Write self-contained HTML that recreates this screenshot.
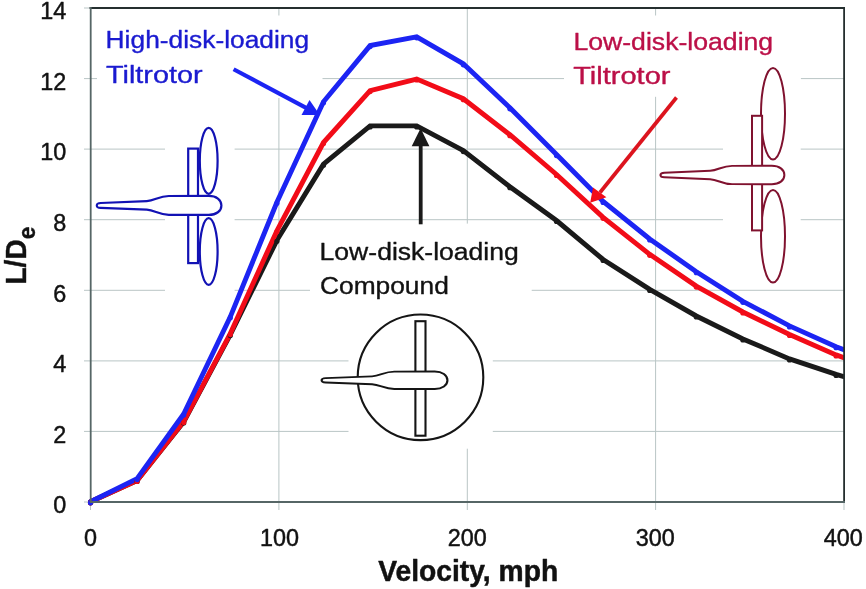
<!DOCTYPE html>
<html><head><meta charset="utf-8"><title>L/De vs Velocity</title>
<style>
html,body{margin:0;padding:0;background:#fff;}
svg{display:block;}
text{font-family:"Liberation Sans",sans-serif;paint-order:stroke;stroke-linejoin:round;}
</style></head><body>
<svg width="866" height="589" viewBox="0 0 866 589">
<rect width="866" height="589" fill="#fff"/>
<g stroke="#b9c5c5" stroke-width="1" fill="none"><line x1="84" y1="431.4" x2="844" y2="431.4"/><line x1="84" y1="360.9" x2="844" y2="360.9"/><line x1="84" y1="290.3" x2="844" y2="290.3"/><line x1="84" y1="219.7" x2="844" y2="219.7"/><line x1="84" y1="149.1" x2="844" y2="149.1"/><line x1="84" y1="78.6" x2="844" y2="78.6"/><line x1="278.9" y1="8" x2="278.9" y2="510"/><line x1="467.3" y1="8" x2="467.3" y2="510"/><line x1="655.6" y1="8" x2="655.6" y2="510"/><line x1="84" y1="8" x2="90" y2="8"/><line x1="84" y1="502" x2="90" y2="502"/><line x1="90.5" y1="502" x2="90.5" y2="510"/><line x1="844" y1="502" x2="844" y2="510"/></g>
<g fill="#fff" stroke="none">
<rect x="97" y="15.5" width="225.5" height="82.5"/>
<rect x="165" y="120" width="69.6" height="175"/>
<rect x="564" y="15.5" width="236.7" height="81.3"/>
<rect x="723" y="60" width="77.7" height="226"/>
<rect x="310" y="223.6" width="221.7" height="85"/>
<rect x="348.5" y="308" width="144.3" height="140.7"/>
</g>
<clipPath id="cp"><rect x="86" y="8" width="758.6" height="498"/></clipPath>
<g clip-path="url(#cp)" fill="none" stroke-width="4.9" stroke-linejoin="miter" stroke-linecap="round">
<polyline stroke="#1a1a1a" points="90.5,501.8 137.1,480.5 183.7,421.9 230.3,334.6 276.9,240.3 323.5,164.2 370.1,125.9 416.7,125.9 463.3,150.6 509.9,186.7 556.5,220.5 603.1,259.5 649.7,289.4 696.3,316.0 742.9,338.9 789.5,358.9 836.1,374.4 882.7,388.0"/>
<polyline stroke="#f20c18" points="90.5,501.8 137.1,480.5 183.7,421.4 230.3,333.6 276.9,230.8 323.5,142.5 370.1,90.6 416.7,79.0 463.3,98.7 509.9,134.7 556.5,174.5 603.1,217.3 649.7,254.3 696.3,286.1 742.9,312.0 789.5,334.5 836.1,354.9 882.7,372.0"/>
<polyline stroke="#1c24f3" points="90.5,501.8 137.1,478.6 183.7,414.0 230.3,316.8 276.9,202.3 323.5,101.7 370.1,45.6 416.7,36.8 463.3,63.8 509.9,107.8 556.5,154.6 603.1,201.4 649.7,239.0 696.3,271.7 742.9,301.3 789.5,325.9 836.1,346.7 882.7,365.0"/>
</g>
<g clip-path="url(#cp)"><circle cx="90.5" cy="502.8" r="2.6" fill="#1a1a1a"/><circle cx="137.1" cy="481.5" r="2.6" fill="#1a1a1a"/><circle cx="183.7" cy="422.9" r="2.6" fill="#1a1a1a"/><circle cx="230.3" cy="335.6" r="2.6" fill="#1a1a1a"/><circle cx="276.9" cy="241.3" r="2.6" fill="#1a1a1a"/><circle cx="323.5" cy="165.2" r="2.6" fill="#1a1a1a"/><circle cx="370.1" cy="126.9" r="2.6" fill="#1a1a1a"/><circle cx="416.7" cy="126.9" r="2.6" fill="#1a1a1a"/><circle cx="463.3" cy="151.6" r="2.6" fill="#1a1a1a"/><circle cx="509.9" cy="187.7" r="2.6" fill="#1a1a1a"/><circle cx="556.5" cy="221.5" r="2.6" fill="#1a1a1a"/><circle cx="603.1" cy="260.5" r="2.6" fill="#1a1a1a"/><circle cx="649.7" cy="290.4" r="2.6" fill="#1a1a1a"/><circle cx="696.3" cy="317.0" r="2.6" fill="#1a1a1a"/><circle cx="742.9" cy="339.9" r="2.6" fill="#1a1a1a"/><circle cx="789.5" cy="359.9" r="2.6" fill="#1a1a1a"/><circle cx="836.1" cy="375.4" r="2.6" fill="#1a1a1a"/><circle cx="90.5" cy="502.8" r="2.6" fill="#f20c18"/><circle cx="137.1" cy="481.5" r="2.6" fill="#f20c18"/><circle cx="183.7" cy="422.4" r="2.6" fill="#f20c18"/><circle cx="230.3" cy="334.6" r="2.6" fill="#f20c18"/><circle cx="276.9" cy="231.8" r="2.6" fill="#f20c18"/><circle cx="323.5" cy="143.5" r="2.6" fill="#f20c18"/><circle cx="370.1" cy="91.6" r="2.6" fill="#f20c18"/><circle cx="416.7" cy="80.0" r="2.6" fill="#f20c18"/><circle cx="463.3" cy="99.7" r="2.6" fill="#f20c18"/><circle cx="509.9" cy="135.7" r="2.6" fill="#f20c18"/><circle cx="556.5" cy="175.5" r="2.6" fill="#f20c18"/><circle cx="603.1" cy="218.3" r="2.6" fill="#f20c18"/><circle cx="649.7" cy="255.3" r="2.6" fill="#f20c18"/><circle cx="696.3" cy="287.1" r="2.6" fill="#f20c18"/><circle cx="742.9" cy="313.0" r="2.6" fill="#f20c18"/><circle cx="789.5" cy="335.5" r="2.6" fill="#f20c18"/><circle cx="836.1" cy="355.9" r="2.6" fill="#f20c18"/><circle cx="90.5" cy="502.8" r="2.6" fill="#1c24f3"/><circle cx="137.1" cy="479.6" r="2.6" fill="#1c24f3"/><circle cx="183.7" cy="415.0" r="2.6" fill="#1c24f3"/><circle cx="230.3" cy="317.8" r="2.6" fill="#1c24f3"/><circle cx="276.9" cy="203.3" r="2.6" fill="#1c24f3"/><circle cx="323.5" cy="102.7" r="2.6" fill="#1c24f3"/><circle cx="370.1" cy="46.6" r="2.6" fill="#1c24f3"/><circle cx="416.7" cy="37.8" r="2.6" fill="#1c24f3"/><circle cx="463.3" cy="64.8" r="2.6" fill="#1c24f3"/><circle cx="509.9" cy="108.8" r="2.6" fill="#1c24f3"/><circle cx="556.5" cy="155.6" r="2.6" fill="#1c24f3"/><circle cx="603.1" cy="202.4" r="2.6" fill="#1c24f3"/><circle cx="649.7" cy="240.0" r="2.6" fill="#1c24f3"/><circle cx="696.3" cy="272.7" r="2.6" fill="#1c24f3"/><circle cx="742.9" cy="302.3" r="2.6" fill="#1c24f3"/><circle cx="789.5" cy="326.9" r="2.6" fill="#1c24f3"/><circle cx="836.1" cy="347.7" r="2.6" fill="#1c24f3"/></g>
<g fill="none" stroke-linecap="square">
<polyline points="90.5,8 844.1,8 844.1,502" stroke="#252f2f" stroke-width="1.8"/>
<polyline points="90.7,8 90.7,502 844.1,502" stroke="#566666" stroke-width="1.8"/>
</g>

<!-- blue aircraft -->
<g fill="#fff" stroke="#1212b4" stroke-width="2.2">
<ellipse cx="208.7" cy="160.8" rx="8.9" ry="33"/>
<ellipse cx="208.7" cy="251.5" rx="8.9" ry="33.3"/>
<rect x="188.2" y="148.6" width="9.8" height="114.5"/>
<path transform="translate(96.8,205.4)" d="M0,0 C0,-2.2 1.5,-2.3 4,-2.4 L50,-4.3 C58,-4.8 62,-9.4 72,-9.4 L112,-9.5 C119.5,-9.5 124.6,-5.6 124.6,0 C124.6,5.6 119.5,9.5 112,9.5 L72,9.4 C62,9.4 58,4.8 50,4.3 L4,2.4 C1.5,2.3 0,2.2 0,0 Z"/>
</g>
<!-- red aircraft -->
<g fill="#fff" stroke="#80122f" stroke-width="2">
<ellipse cx="773" cy="113.7" rx="12" ry="45.8"/>
<ellipse cx="773" cy="236.3" rx="12" ry="46.3"/>
<rect x="752" y="115.8" width="10.1" height="114.6"/>
<path transform="translate(660.4,175) scale(0.995,0.97)" d="M0,0 C0,-2.2 1.5,-2.3 4,-2.4 L50,-4.3 C58,-4.8 62,-9.4 72,-9.4 L112,-9.5 C119.5,-9.5 124.6,-5.6 124.6,0 C124.6,5.6 119.5,9.5 112,9.5 L72,9.4 C62,9.4 58,4.8 50,4.3 L4,2.4 C1.5,2.3 0,2.2 0,0 Z"/>
</g>
<!-- compound -->
<g fill="none" stroke="#151515" stroke-width="2.1">
<circle cx="420.5" cy="377.3" r="62.8"/>
<rect x="415.4" y="321.2" width="10.1" height="114.5" fill="#fff"/>
<path transform="translate(321.6,380.3) scale(1.01,0.92)" d="M0,0 C0,-2.2 1.5,-2.3 4,-2.4 L50,-4.3 C58,-4.8 62,-9.4 72,-9.4 L112,-9.5 C119.5,-9.5 124.6,-5.6 124.6,0 C124.6,5.6 119.5,9.5 112,9.5 L72,9.4 C62,9.4 58,4.8 50,4.3 L4,2.4 C1.5,2.3 0,2.2 0,0 Z" fill="#fff"/>
</g>

<!-- arrows -->
<g stroke-linecap="butt">
<line x1="233.6" y1="69.2" x2="308" y2="108.9" stroke="#1c24f3" stroke-width="4.1"/>
<polygon points="319.8,114.9 301.5,115 309.5,100" fill="#1c24f3"/>
<line x1="676.5" y1="97.5" x2="600" y2="192.5" stroke="#dc141e" stroke-width="3.7"/>
<polygon points="590.2,202.8 593,187.6 606.4,197.2" fill="#f20c18"/>
<line x1="420.7" y1="224.3" x2="420.7" y2="144" stroke="#1a1a1a" stroke-width="3.8"/>
<polygon points="420.6,128.3 411.7,146.3 429.4,146.3" fill="#1a1a1a"/>
</g>

<!-- annotation text -->
<g font-size="23.3" fill="#1a1ad0" stroke="#1a1ad0" stroke-width="0.35">
<text id="t1" x="105.6" y="48.3" textLength="203.6" lengthAdjust="spacingAndGlyphs">High-disk-loading</text>
<text id="t2" x="106" y="83" textLength="96.5" lengthAdjust="spacingAndGlyphs">Tiltrotor</text>
</g>
<g font-size="23.3" fill="#bb0f47" stroke="#bb0f47" stroke-width="0.35">
<text id="t3" x="573.4" y="49.8" textLength="199.8" lengthAdjust="spacingAndGlyphs">Low-disk-loading</text>
<text id="t4" x="573.2" y="83.5" textLength="97.3" lengthAdjust="spacingAndGlyphs">Tiltrotor</text>
</g>
<g font-size="23.3" fill="#111" stroke="#111" stroke-width="0.35">
<text id="t5" x="319.6" y="259.7" textLength="199.2" lengthAdjust="spacingAndGlyphs">Low-disk-loading</text>
<text id="t6" x="320" y="293.5" textLength="128.8" lengthAdjust="spacingAndGlyphs">Compound</text>
</g>

<!-- axis tick labels -->
<g font-size="23.4" fill="#111" stroke="#111" stroke-width="0.45" text-anchor="end">
<text x="66.2" y="19.2">14</text>
<text x="66.2" y="89.8">12</text>
<text x="66.2" y="160.3">10</text>
<text x="66.2" y="230.9">8</text>
<text x="66.2" y="301.5">6</text>
<text x="66.2" y="372.1">4</text>
<text x="66.2" y="442.6">2</text>
<text x="66.2" y="513.2">0</text>
</g>
<g font-size="23.4" fill="#111" stroke="#111" stroke-width="0.45" text-anchor="middle">
<text x="90.6" y="545.6">0</text>
<text x="279.6" y="545.6">100</text>
<text x="467.3" y="545.6">200</text>
<text x="655.3" y="545.6">300</text>
<text x="843.3" y="545.6">400</text>
</g>
<text id="xl" x="378.2" y="581.2" font-size="29" font-weight="bold" fill="#111" stroke="#111" stroke-width="0.5" textLength="180" lengthAdjust="spacingAndGlyphs">Velocity, mph</text>
<text id="yl" transform="translate(25.6,284.6) rotate(-90)" font-size="30" font-weight="bold" fill="#111" stroke="#111" stroke-width="0.4" textLength="57.8" lengthAdjust="spacingAndGlyphs">L/D<tspan font-size="24" dy="9.6">e</tspan></text>
</svg>
</body></html>
